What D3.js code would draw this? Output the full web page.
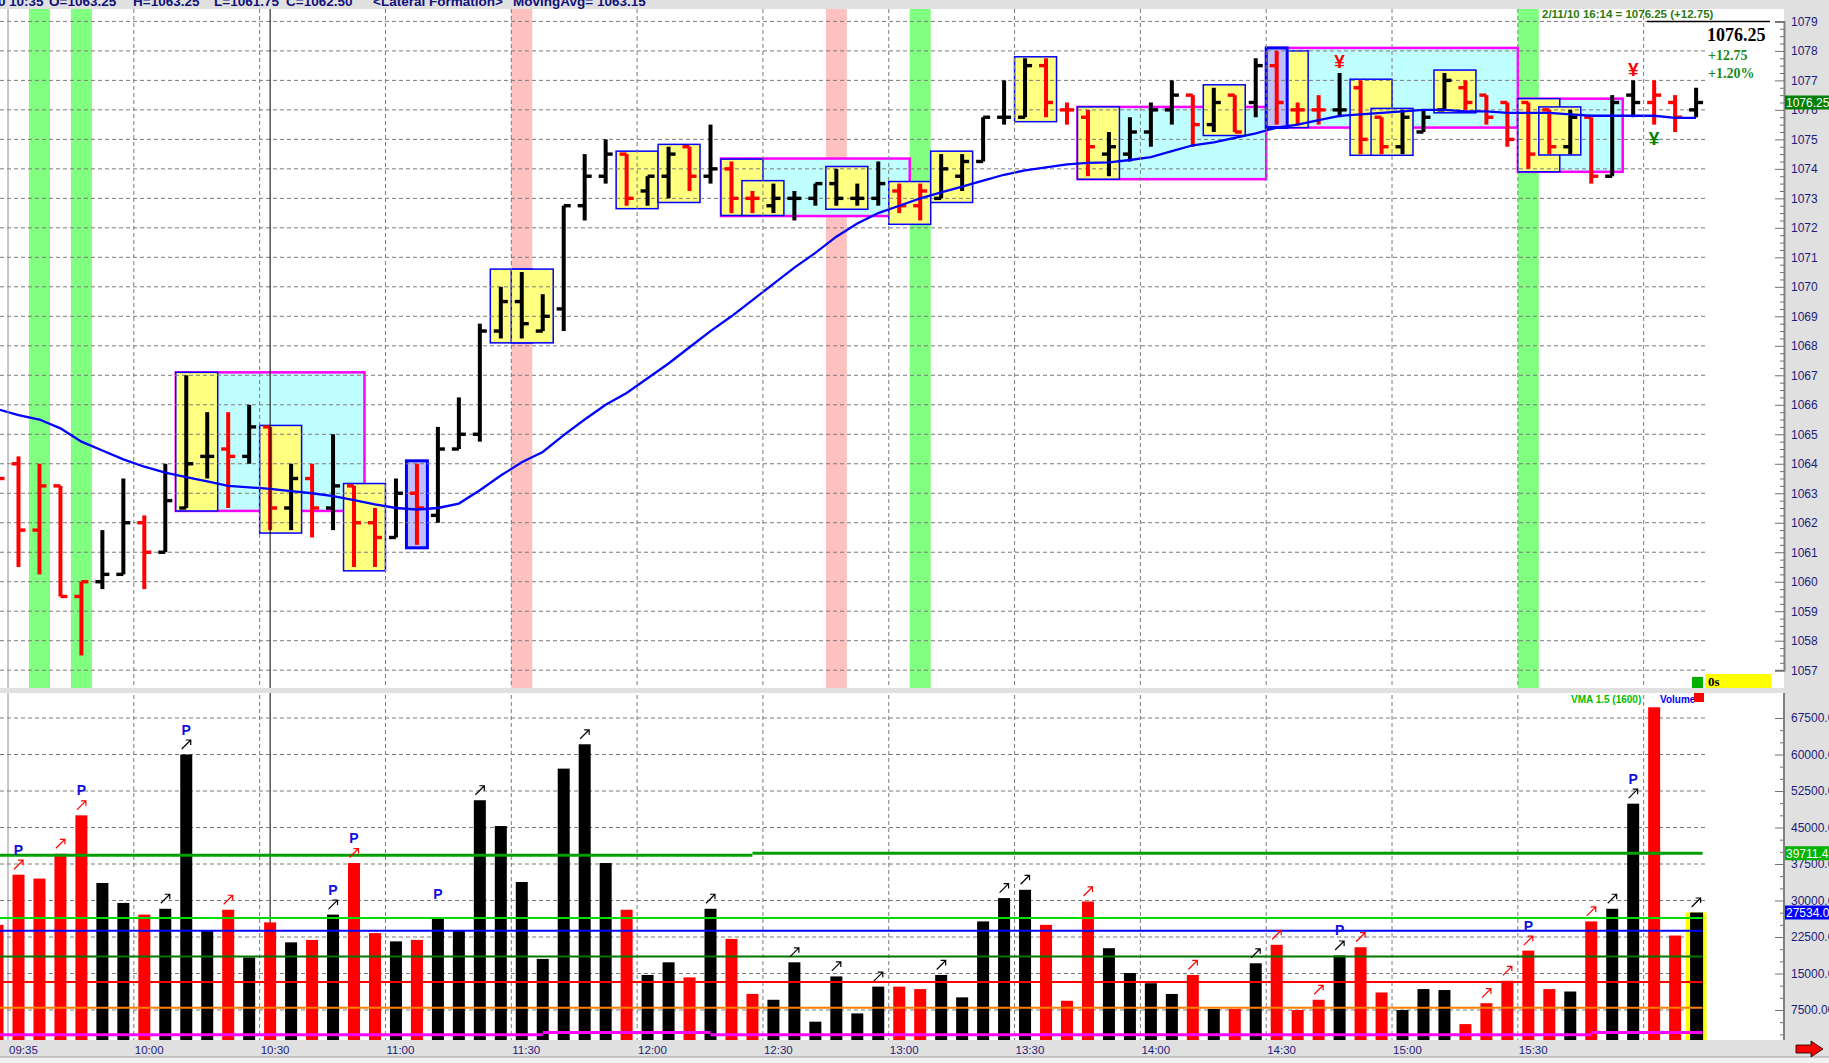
<!DOCTYPE html>
<html><head><meta charset="utf-8">
<script src="https://cdn.jsdelivr.net/npm/d3@7"></script>
<style>
body{margin:0;background:#e0e0e0;overflow:hidden}
</style></head>
<body><svg id="c" width="1829" height="1063" font-family="Arial, 'Liberation Sans', sans-serif"></svg>
<script>
// ---------------- DATA ----------------
const times = ["09:30","09:35","09:40","09:45","09:50","09:55","10:00","10:05","10:10","10:15","10:20","10:25","10:30","10:35","10:40","10:45","10:50","10:55","11:00","11:05","11:10","11:15","11:20","11:25","11:30","11:35","11:40","11:45","11:50","11:55","12:00","12:05","12:10","12:15","12:20","12:25","12:30","12:35","12:40","12:45","12:50","12:55","13:00","13:05","13:10","13:15","13:20","13:25","13:30","13:35","13:40","13:45","13:50","13:55","14:00","14:05","14:10","14:15","14:20","14:25","14:30","14:35","14:40","14:45","14:50","14:55","15:00","15:05","15:10","15:15","15:20","15:25","15:30","15:35","15:40","15:45","15:50","15:55","16:00","16:05","16:10","16:15"];
const opens  = [1063.75,1064.0,1061.75,1063.25,1059.5,1060.0,1060.25,1062.0,1061.0,1062.5,1064.25,1064.5,1064.25,1065.25,1062.5,1063.5,1062.5,1063.25,1062.0,1061.5,1063.0,1062.25,1064.5,1065.0,1068.5,1069.5,1068.5,1069.25,1072.75,1073.75,1074.5,1073.25,1073.75,1074.75,1073.75,1074.0,1073.0,1072.75,1073.0,1073.0,1073.5,1073.0,1073.0,1073.25,1072.75,1073.0,1073.75,1074.25,1075.75,1075.75,1077.5,1076.0,1075.75,1074.5,1074.5,1075.25,1076.0,1076.5,1075.5,1076.5,1076.25,1077.5,1076.0,1076.0,1076.0,1076.75,1075.75,1074.75,1075.25,1076.0,1076.75,1076.5,1076.25,1076.25,1076.0,1074.75,1075.75,1073.75,1076.5,1076.25,1076.25,1076.0];
const highs  = [1064.5,1064.25,1064.0,1063.25,1060.0,1061.75,1063.5,1062.25,1064.0,1067.0,1065.75,1065.75,1066.0,1065.25,1064.0,1064.0,1065.0,1063.25,1062.5,1063.5,1064.0,1065.25,1066.25,1068.75,1070.0,1070.5,1069.75,1072.75,1074.5,1075.0,1074.5,1073.75,1074.75,1074.75,1075.5,1074.25,1073.25,1073.5,1073.25,1073.5,1074.0,1073.5,1074.25,1073.5,1073.5,1074.5,1074.5,1075.75,1077.0,1077.75,1077.75,1076.25,1076.0,1075.25,1075.75,1076.25,1077.0,1076.5,1076.75,1076.5,1077.75,1078.0,1076.25,1076.5,1077.25,1077.0,1075.75,1076.0,1076.0,1077.25,1077.0,1076.5,1076.25,1076.25,1076.0,1076.0,1075.75,1076.5,1077.0,1077.0,1076.5,1076.75];
const lows   = [1062.5,1060.5,1060.25,1059.5,1057.5,1059.75,1060.25,1059.75,1061.0,1062.5,1063.5,1062.5,1064.0,1061.75,1061.75,1061.5,1061.75,1060.5,1060.5,1061.5,1061.25,1062.0,1064.5,1064.75,1068.25,1068.25,1068.5,1068.5,1072.25,1073.5,1072.75,1072.75,1073.0,1073.25,1073.5,1072.5,1072.5,1072.5,1072.25,1072.75,1072.75,1072.75,1072.75,1072.5,1072.25,1073.0,1073.25,1074.25,1075.5,1075.75,1075.75,1075.5,1073.75,1073.75,1074.25,1074.75,1075.5,1074.75,1075.25,1075.25,1075.75,1075.5,1075.5,1075.5,1075.75,1074.5,1074.5,1074.5,1075.25,1076.0,1076.0,1075.5,1074.75,1074.0,1074.5,1074.5,1073.5,1073.75,1075.75,1075.5,1075.25,1075.75];
const closes = [1063.5,1061.75,1063.25,1059.5,1060.0,1060.25,1062.0,1061.0,1062.75,1064.0,1064.25,1064.25,1065.25,1062.5,1063.5,1062.5,1063.25,1062.0,1061.5,1063.0,1062.5,1064.5,1065.0,1068.5,1069.5,1068.75,1069.0,1072.75,1073.75,1074.5,1073.0,1073.75,1074.5,1073.75,1074.0,1073.0,1073.0,1073.0,1073.0,1073.5,1073.0,1073.0,1073.5,1072.75,1073.25,1074.0,1074.25,1075.75,1075.75,1077.5,1076.25,1076.0,1074.75,1074.75,1075.25,1076.0,1076.5,1075.5,1076.25,1075.25,1077.5,1076.25,1076.0,1076.0,1076.0,1075.0,1074.75,1075.75,1075.75,1077.0,1076.25,1075.75,1075.0,1074.5,1074.75,1075.75,1073.75,1076.25,1076.25,1076.5,1075.75,1076.25];
const barColors = ["r","r","r","r","r","k","k","r","k","k","k","r","k","r","k","r","k","r","r","k","r","k","k","k","k","k","k","k","k","k","r","k","k","r","k","r","r","k","k","k","k","k","k","r","r","k","k","k","k","k","r","r","r","k","k","k","k","r","k","r","k","r","r","r","k","r","r","k","k","k","r","r","r","r","r","k","r","k","k","r","r","k"];
const volumes = [25000,35300,34500,39600,47500,33600,29500,27100,28300,60000,23800,28100,18300,25500,21400,21900,27100,37700,23300,21600,21900,26200,23800,50600,45300,33800,18000,57100,62100,37700,28100,14700,17300,14200,28300,22100,10800,9600,17300,5100,14400,6800,12300,12300,11800,14700,10100,25700,30500,32200,25000,9400,29800,20200,15100,13000,10800,14700,7700,7700,17100,20900,7500,9600,18700,20400,11100,7500,11800,11600,4600,8900,13500,19700,11800,11300,25700,28300,49900,69700,22800,27534];
const movingAvg = [1065.85,1065.65,1065.5,1065.2,1064.75,1064.45,1064.15,1063.9,1063.7,1063.55,1063.4,1063.25,1063.2,1063.15,1063.07,1063.0,1062.9,1062.77,1062.62,1062.5,1062.45,1062.5,1062.65,1063.1,1063.6,1064.05,1064.4,1064.97,1065.5,1066.0,1066.4,1066.9,1067.4,1067.95,1068.5,1069.0,1069.55,1070.1,1070.65,1071.15,1071.7,1072.15,1072.5,1072.75,1073.0,1073.2,1073.4,1073.6,1073.8,1073.95,1074.05,1074.15,1074.2,1074.22,1074.3,1074.4,1074.6,1074.8,1074.9,1075.05,1075.2,1075.4,1075.5,1075.65,1075.8,1075.85,1075.9,1075.95,1076.0,1076.0,1075.95,1075.95,1075.9,1075.9,1075.9,1075.85,1075.8,1075.8,1075.8,1075.8,1075.73,1075.73];

const gridTimes  = ["09:35","10:05","10:35","11:05","11:35","12:05","12:35","13:05","13:35","14:05","14:35","15:05","15:35","16:05"];
const tickLabels = ["09:35","10:00","10:30","11:00","11:30","12:00","12:30","13:00","13:30","14:00","14:30","15:00","15:30",""];
const priceTicks = [1057,1058,1059,1060,1061,1062,1063,1064,1065,1066,1067,1068,1069,1070,1071,1072,1073,1074,1075,1076,1077,1078,1079];
const volumeTicks = [7500,15000,22500,30000,37500,45000,52500,60000,67500];

const greenBands = ["09:40","09:50","13:10","15:35"];
const pinkBands  = ["11:35","12:50"];
// [start, end, high, low]
const zoneBoxes = [["10:15","10:55",1067.1,1062.4],["12:25","13:05",1074.35,1072.4],["13:50","14:30",1076.1,1073.65],["14:35","15:30",1078.1,1075.4],["15:35","15:55",1076.38,1073.9]];
const yellowBoxes = [["10:15","10:20",1067.1,1062.4],["10:35","10:40",1065.3,1061.65],["10:55","11:00",1063.33,1060.37],["11:30","11:35",1070.6,1068.1],["11:35","11:40",1070.6,1068.1],["12:00","12:05",1074.6,1072.65],["12:10","12:15",1074.83,1072.86],["12:25","12:30",1074.33,1072.42],["12:30","12:35",1073.6,1072.42],["12:50","12:55",1074.08,1072.63],["13:05","13:10",1073.57,1072.12],["13:15","13:20",1074.6,1072.86],["13:35","13:40",1077.8,1075.6],["13:50","13:55",1076.1,1073.65],["14:20","14:25",1076.85,1075.13],["14:35","14:40",1078.0,1075.4],["14:55","15:00",1077.04,1074.46],["15:00","15:05",1076.05,1074.46],["15:15","15:20",1077.35,1075.9],["15:35","15:40",1076.38,1073.9],["15:40","15:45",1076.1,1074.47]];
const lavenderBoxes = [["11:10","11:10",1064.1,1061.15],["14:35","14:35",1078.1,1075.4]];
const yenMarks = [["14:50",1077.66,"#ff0000"],["16:00",1077.4,"#ff0000"],["16:05",1075.05,"#008000"]];

const pLabels = ["09:35","09:50","10:15","10:50","10:55","11:15","14:50","15:35","16:00"];
const arrowBars = ["09:35","09:45","09:50","10:10","10:15","10:25","10:50","10:55","11:25","11:50","12:20","12:40","12:50","13:00","13:15","13:30","13:35","13:50","14:15","14:30","14:35","14:45","14:50","14:55","15:25","15:30","15:35","15:50","15:55","16:00","16:15"];
// volume indicator lines: [name, colour, width, segments [start,end,value]]
const volLines = [
  ["VMA x1.5","#00a000",3,[["09:30","12:30",39300],["12:30","16:15",39711.42]]],
  ["upper","#00e000",2,[["09:30","16:15",26400]]],
  ["VMA","#0000ff",2,[["09:30","16:15",23800]]],
  ["mid","#007800",2,[["09:30","16:15",18500]]],
  ["low","#ff0000",2,[["09:30","16:15",13230]]],
  ["lower","#ff8000",2,[["09:30","16:15",7950]]],
  ["base","#ff00ff",3,[["09:30","11:40",2440],["11:40","12:20",2900],["12:20","15:50",2440],["15:50","16:15",2900]]]
];
const headerParts = [["0",-2],["10:35",9],["O=1063.25",49],["H=1063.25",133],["L=1061.75",214],["C=1062.50",286],["<Lateral Formation>",373],["MovingAvg= 1063.15",513]];
const lastPrice = 1076.25, lastVolume = 27534, vmaValue = 39711.42;

// ---------------- LAYOUT ----------------
const SERIF = "'Liberation Serif','Times New Roman',serif";
const svg = d3.select("#c");
const plotR = 1784, priceTop = 9, priceBot = 688, volTop = 693, volBot = 1040;
const x = d3.scaleBand().domain(times).range([-12.96, 1706.58]).paddingInner(0).paddingOuter(0);
const bw = x.bandwidth();
const cx = t => x(t) + bw/2;
const yP = d3.scaleLinear().domain([1057,1079]).range([670.2,21.4]);
const yV = d3.scaleLinear().domain([0,67500]).range([1046.5,718]);
const dataEnd = x(times[times.length-1]) + bw;
const bars = times.map((t,k)=>({t,o:opens[k],h:highs[k],l:lows[k],c:closes[k],col:barColors[k]==="r"?"#ff0000":"#000000",v:volumes[k],ma:movingAvg[k]}));
const byT = {}; bars.forEach(b=>byT[b.t]=b);

const defs = svg.append("defs");
defs.append("clipPath").attr("id","cp").append("rect").attr("x",0).attr("y",priceTop).attr("width",plotR).attr("height",priceBot-priceTop);
defs.append("clipPath").attr("id","cv").append("rect").attr("x",0).attr("y",volTop).attr("width",plotR).attr("height",volBot-volTop);

svg.append("rect").attr("width",1829).attr("height",1063).attr("fill","#e0e0e0");
svg.append("rect").attr("x",0).attr("y",priceTop).attr("width",plotR).attr("height",priceBot-priceTop).attr("fill","#fff");
svg.append("rect").attr("x",0).attr("y",volTop).attr("width",plotR).attr("height",volBot-volTop).attr("fill","#fff");

// header (clipped at the top edge like the reference)
const hdr = svg.append("text").attr("y",5.5).attr("fill","#10107a").attr("font-weight","bold").attr("font-size",13.5);
headerParts.forEach(p=>hdr.append("tspan").attr("x",p[1]).text(p[0]));

// ---------------- PRICE PANEL ----------------
const gP = svg.append("g").attr("clip-path","url(#cp)");
gP.selectAll(".gb").data(greenBands).join("rect").attr("x",d=>x(d)).attr("y",priceTop).attr("width",bw).attr("height",priceBot-priceTop).attr("fill","#80ff80");
gP.selectAll(".pb").data(pinkBands).join("rect").attr("x",d=>x(d)).attr("y",priceTop).attr("width",bw).attr("height",priceBot-priceTop).attr("fill","#ffc0c0");

function boxes(g, data, fill, stroke, sw){
  g.selectAll(null).data(data).join("rect")
   .attr("x",d=>x(d[0])).attr("width",d=>x(d[1])+bw-x(d[0]))
   .attr("y",d=>yP(d[2])).attr("height",d=>yP(d[3])-yP(d[2]))
   .attr("fill",fill).attr("stroke",stroke).attr("stroke-width",sw);
}
boxes(gP, zoneBoxes, "#c0ffff", "#ff00ff", 2.5);
// cursor line
svg.append("line").attr("x1",cx("10:35")).attr("x2",cx("10:35")).attr("y1",priceTop).attr("y2",volBot).attr("stroke","#000").attr("stroke-width",1);
boxes(gP, yellowBoxes, "#ffff80", "#0000ff", 1.5);
boxes(gP, lavenderBoxes, "#c0c0ff", "#0000ff", 3);

// gridlines
gP.selectAll(".hg").data(priceTicks).join("line").attr("x1",0).attr("x2",dataEnd).attr("y1",d=>yP(d)).attr("y2",d=>yP(d)).attr("stroke","#7a7a7a").attr("stroke-dasharray","4,3");
svg.selectAll(".vg").data(gridTimes).join("line").attr("x1",d=>x(d)).attr("x2",d=>x(d)).attr("y1",priceTop).attr("y2",volBot)
  .attr("stroke",(d,i)=>i===0?"#909090":"#7a7a7a").attr("stroke-dasharray",(d,i)=>i===0?null:"4,3");
svg.append("rect").attr("x",0).attr("y",priceBot).attr("width",plotR).attr("height",volTop-priceBot).attr("fill","#e0e0e0");

// OHLC bars
const gb = gP.append("g");
bars.forEach(b=>{
  const c = cx(b.t);
  gb.append("rect").attr("x",c-2).attr("width",4).attr("y",yP(b.h)).attr("height",Math.max(2,yP(b.l)-yP(b.h))).attr("fill",b.col);
  gb.append("rect").attr("x",c-7).attr("width",7).attr("y",yP(b.o)-1.7).attr("height",3.4).attr("fill",b.col);
  gb.append("rect").attr("x",c).attr("width",7).attr("y",yP(b.c)-1.7).attr("height",3.4).attr("fill",b.col);
});
// moving average
gP.append("path").datum(bars).attr("fill","none").attr("stroke","#0000ff").attr("stroke-width",2.3)
  .attr("d",d3.line().x(d=>cx(d.t)).y(d=>yP(d.ma)));
// yen marks
gP.selectAll(".yen").data(yenMarks).join("text").attr("x",d=>cx(d[0])).attr("y",d=>yP(d[1])+7).attr("text-anchor","middle")
  .attr("font-size",19).attr("font-weight","bold").attr("fill",d=>d[2]).text("¥");
// top line and info
svg.append("line").attr("x1",1647).attr("x2",1770).attr("y1",yP(1079)).attr("y2",yP(1079)).attr("stroke","#000").attr("stroke-width",1.5);
svg.append("text").attr("x",1542).attr("y",17.5).attr("font-size",11.5).attr("font-weight","bold").attr("fill","#2c7a10").text("2/11/10 16:14 = 1076.25 (+12.75)");
svg.append("text").attr("x",1707).attr("y",41).attr("font-family",SERIF).attr("font-size",18).attr("font-weight","bold").attr("fill","#000").text("1076.25");
svg.append("text").attr("x",1708).attr("y",60).attr("font-family",SERIF).attr("font-size",14).attr("font-weight","bold").attr("fill","#1a8a1a").text("+12.75");
svg.append("text").attr("x",1708).attr("y",78).attr("font-family",SERIF).attr("font-size",14).attr("font-weight","bold").attr("fill","#1a8a1a").text("+1.20%");
// 0s status
svg.append("rect").attr("x",1692).attr("y",677).attr("width",11).attr("height",11).attr("fill","#00b000");
svg.append("rect").attr("x",1705).attr("y",674).attr("width",66).attr("height",14).attr("fill","#ffff00");
svg.append("text").attr("x",1708).attr("y",685.5).attr("font-family",SERIF).attr("font-size",13).attr("font-weight","bold").text("0s");

// ---------------- VOLUME PANEL ----------------
const gV = svg.append("g").attr("clip-path","url(#cv)");
gV.selectAll(".vh").data(volumeTicks).join("line").attr("x1",0).attr("x2",dataEnd).attr("y1",d=>yV(d)).attr("y2",d=>yV(d)).attr("stroke","#7a7a7a").attr("stroke-dasharray","4,3");
const lastT = times[times.length-1];
gV.append("rect").attr("x",x(lastT)).attr("width",bw).attr("y",yV(lastVolume)).attr("height",volBot-yV(lastVolume)).attr("fill","#ffff00");
gV.selectAll(".vb").data(bars).join("rect").attr("x",d=>cx(d.t)-6).attr("width",d=>d.t===lastT?13:12)
  .attr("y",d=>yV(d.v)).attr("height",d=>volBot+10-yV(d.v)).attr("fill",d=>d.col);
volLines.forEach(L=>{
  L[3].forEach(s=>{
    gV.append("line").attr("x1",s[0]===times[0]?0:cx(s[0])).attr("x2",s[1]===lastT?dataEnd-4:cx(s[1]))
      .attr("y1",yV(s[2])).attr("y2",yV(s[2])).attr("stroke",L[1]).attr("stroke-width",L[2]);
  });
});
// arrows & P labels
arrowBars.forEach(t=>{
  const b = byT[t], c = cx(t), y0 = yV(b.v)-10;
  gV.append("path").attr("d",`M${c-4.5},${y0+4.5}L${c+4.5},${y0-4.5}M${c-0.5},${y0-4.5}L${c+4.5},${y0-4.5}L${c+4.5},${y0+0.5}`)
    .attr("fill","none").attr("stroke",b.col).attr("stroke-width",1.2);
});
gV.selectAll(".pl").data(pLabels).join("text").attr("x",d=>cx(d)).attr("y",d=>yV(byT[d].v)-20).attr("text-anchor","middle")
  .attr("font-size",14).attr("font-weight","bold").attr("fill","#1010e0").text("P");
svg.append("text").attr("x",1571).attr("y",703).attr("font-size",10).attr("font-weight","bold").attr("fill","#00c000").text("VMA 1.5 (1600)");
svg.append("text").attr("x",1660).attr("y",703).attr("font-size",10).attr("font-weight","bold").attr("fill","#0000ff").text("Volume");
svg.append("rect").attr("x",1694).attr("y",693).attr("width",10).attr("height",9).attr("fill","#ff0000");

// ---------------- AXES ----------------
const axP = svg.append("g").attr("transform",`translate(${plotR},0)`)
  .call(d3.axisRight(yP).tickValues(priceTicks).tickSize(-9).tickPadding(7).tickFormat(d3.format("d")));
const minorP = d3.range(0,89).map(i=>1057+i*0.25).filter(v=>v%1!==0);
svg.append("g").attr("transform",`translate(${plotR},0)`).call(d3.axisRight(yP).tickValues(minorP).tickSize(-4).tickFormat(""))
  .call(g=>g.select(".domain").remove());
axP.select(".domain").attr("stroke","#808080").attr("stroke-width",2);
const axV = svg.append("g").attr("transform",`translate(${plotR},0)`)
  .call(d3.axisRight(yV).tickValues(volumeTicks).tickSize(-9).tickPadding(7).tickFormat(d3.format(".2f")));
const minorV = d3.range(1,28).map(i=>i*2500).filter(v=>v%7500!==0 && yV(v)>volTop && yV(v)<volBot);
svg.append("g").attr("transform",`translate(${plotR},0)`).call(d3.axisRight(yV).tickValues(minorV).tickSize(-4).tickFormat(""))
  .call(g=>g.select(".domain").remove());
axV.select(".domain").remove();
svg.append("line").attr("x1",plotR).attr("x2",plotR).attr("y1",volTop).attr("y2",volBot).attr("stroke","#808080").attr("stroke-width",2);
svg.selectAll(".tick line").attr("stroke","#707070");
svg.selectAll(".tick text").attr("fill","#1c1c7c").attr("font-size",12).attr("font-family","Arial,'Liberation Sans',sans-serif");

// value boxes on axis
function valBox(yv, txt, fill){
  svg.append("rect").attr("x",plotR+1).attr("y",yv-7).attr("width",50).attr("height",14).attr("fill",fill);
  svg.append("text").attr("x",plotR+2).attr("y",yv+4.5).attr("font-size",12).attr("fill","#fff").text(txt);
}
valBox(yP(lastPrice), "1076.25", "#008000");
valBox(yV(vmaValue), d3.format(".2f")(vmaValue), "#00b400");
valBox(yV(lastVolume), d3.format(".2f")(lastVolume), "#0000ff");

// time labels
svg.selectAll(".tl").data(gridTimes).join("text").attr("x",d=>x(d)+1).attr("y",1053.5).attr("font-size",11.5).attr("fill","#1c1c7c")
  .text((d,i)=>tickLabels[i]);
// bottom strip and arrow
svg.append("rect").attr("x",0).attr("y",1057).attr("width",1829).attr("height",6).attr("fill","#f2f2f2");
svg.append("line").attr("x1",0).attr("x2",1829).attr("y1",1057).attr("y2",1057).attr("stroke","#a0a0a0");
svg.append("path").attr("d","M1796,1045L1811,1045L1811,1041L1823,1049L1811,1057L1811,1053L1796,1053Z").attr("fill","#ff0000").attr("stroke","#000").attr("stroke-width",0.8);
</script></body></html>
